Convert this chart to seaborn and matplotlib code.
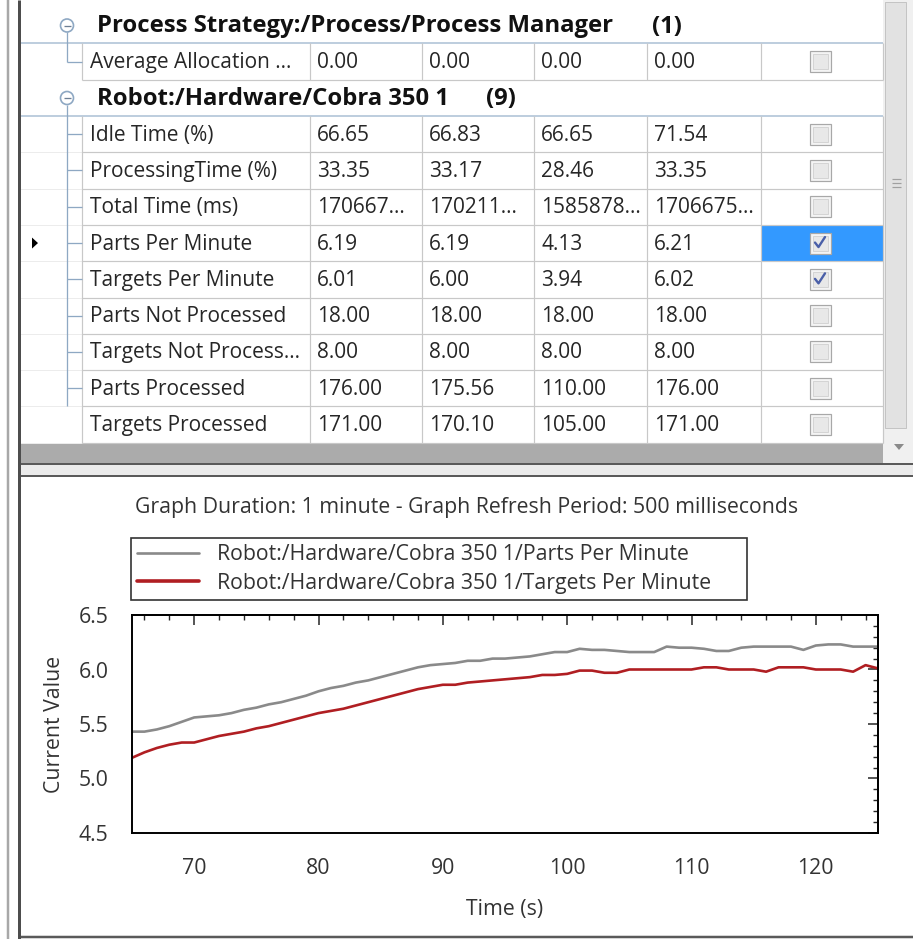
import matplotlib
matplotlib.use("Agg")
import matplotlib.pyplot as plt
from matplotlib.patches import Rectangle, Circle, Polygon
from matplotlib.lines import Line2D
from matplotlib.ticker import MultipleLocator
import pandas as pd
import seaborn as sns

# ---------------- table data ----------------
group_titles = ["Process Strategy:/Process/Process Manager", "Robot:/Hardware/Cobra 350 1"]
group_counts = ["(1)", "(9)"]
group1_rows = ["Average Allocation ..."]
group1_values = [["0.00", "0.00", "0.00", "0.00"]]
group1_checked = [False]
group2_rows = ["Idle Time (%)", "ProcessingTime (%)", "Total Time (ms)", "Parts Per Minute",
               "Targets Per Minute", "Parts Not Processed", "Targets Not Process...",
               "Parts Processed", "Targets Processed"]
col1 = ["66.65", "33.35", "170667...", "6.19", "6.01", "18.00", "8.00", "176.00", "171.00"]
col2 = ["66.83", "33.17", "170211...", "6.19", "6.00", "18.00", "8.00", "175.56", "170.10"]
col3 = ["66.65", "28.46", "1585878...", "4.13", "3.94", "18.00", "8.00", "110.00", "105.00"]
col4 = ["71.54", "33.35", "1706675...", "6.21", "6.02", "18.00", "8.00", "176.00", "171.00"]
group2_checked = [False, False, False, True, True, False, False, False, False]
selected_row = 3

# ---------------- chart data ----------------
chart_title = "Graph Duration: 1 minute - Graph Refresh Period: 500 milliseconds"
series_labels = ["Robot:/Hardware/Cobra 350 1/Parts Per Minute",
                 "Robot:/Hardware/Cobra 350 1/Targets Per Minute"]
time_s = [65, 66, 67, 68, 69, 70, 71, 72, 73, 74, 75, 76, 77, 78, 79, 80, 81, 82, 83, 84,
          85, 86, 87, 88, 89, 90, 91, 92, 93, 94, 95, 96, 97, 98, 99, 100, 101, 102, 103, 104,
          105, 106, 107, 108, 109, 110, 111, 112, 113, 114, 115, 116, 117, 118, 119, 120, 121,
          122, 123, 124, 125]
parts_per_minute = [5.43, 5.43, 5.45, 5.48, 5.52, 5.56, 5.57, 5.58, 5.60, 5.63, 5.65, 5.68,
                    5.70, 5.73, 5.76, 5.80, 5.83, 5.85, 5.88, 5.90, 5.93, 5.96, 5.99, 6.02,
                    6.04, 6.05, 6.06, 6.08, 6.08, 6.10, 6.10, 6.11, 6.12, 6.14, 6.16, 6.16,
                    6.19, 6.18, 6.18, 6.17, 6.16, 6.16, 6.16, 6.21, 6.20, 6.20, 6.19, 6.17,
                    6.17, 6.20, 6.21, 6.21, 6.21, 6.21, 6.18, 6.22, 6.23, 6.23, 6.21, 6.21, 6.21]
targets_per_minute = [5.19, 5.24, 5.28, 5.31, 5.33, 5.33, 5.36, 5.39, 5.41, 5.43, 5.46, 5.48,
                      5.51, 5.54, 5.57, 5.60, 5.62, 5.64, 5.67, 5.70, 5.73, 5.76, 5.79, 5.82,
                      5.84, 5.86, 5.86, 5.88, 5.89, 5.90, 5.91, 5.92, 5.93, 5.95, 5.95, 5.96,
                      5.99, 5.99, 5.97, 5.97, 6.00, 6.00, 6.00, 6.00, 6.00, 6.00, 6.02, 6.02,
                      6.00, 6.00, 6.00, 5.98, 6.02, 6.02, 6.02, 6.00, 6.00, 6.00, 5.98, 6.04, 6.01]
x_ticks = [70, 80, 90, 100, 110, 120]
y_ticks = [4.5, 5.0, 5.5, 6.0, 6.5]

# ---------------- style ----------------
sns.set_style("white")
FONT = ["Open Sans", "DejaVu Sans"]
plt.rcParams["font.family"] = FONT
TXT = "#262626"
GRID = "#c8c8c8"
BLUE_LINE = "#a9bfd4"
TREE = "#8ea8c3"
SEL = "#3399ff"
LINE_GRAY = "#8a8a8a"
LINE_RED = "#b01e22"
FS = 15.0      # table body text
FS_B = 17.2    # bold group headers
FS_C = 15.3    # chart texts

W, H = 913, 939
fig = plt.figure(figsize=(W / 100, H / 100), dpi=100, facecolor="white")
bg = fig.add_axes([0, 0, 1, 1], zorder=0)
bg.set_xlim(0, W)
bg.set_ylim(H, 0)
bg.axis("off")

PX = 0.72


def hline(y, x0, x1, c, px=1, z=2):
    bg.plot([x0, x1], [y, y], color=c, lw=px * PX, solid_capstyle="butt", zorder=z)


def vline(x, y0, y1, c, px=1, z=2):
    bg.plot([x, x], [y0, y1], color=c, lw=px * PX, solid_capstyle="butt", zorder=z)


def rect(x, y, w, h, fc, ec="none", px=1, z=1):
    bg.add_patch(Rectangle((x, y), w, h, facecolor=fc, edgecolor=ec, lw=px * PX, zorder=z))


def checkbox(cx, cy, on):
    rect(cx - 10.5, cy - 10.5, 21, 21, "#f4f4f4", "#a8a8a8", 1.2, z=4)
    rect(cx - 7.5, cy - 7.5, 15, 15, "#e8e8e8", "#d4d4d4", 1, z=4)
    if on:
        bg.plot([cx - 5, cx - 1.5, cx + 5], [cy - 0.5, cy + 4, cy - 6], color="#4a5fa8",
                lw=1.7, zorder=5, solid_capstyle="round", solid_joinstyle="round")


# ---------------- table ----------------
cols = [82, 310, 422, 534, 647, 761, 883]
row_h = 36.3
g1_head = (8, 43)
g1_row = (43, 80)
g2_head = (80, 116)
g2_rows = [(116 + i * row_h, 116 + (i + 1) * row_h) for i in range(len(group2_rows))]
table_bottom = g2_rows[-1][1]

# selected checkbox cell
sy0, sy1 = g2_rows[selected_row]
rect(cols[5], sy0, cols[6] - cols[5], sy1 - sy0, SEL, z=1)

# group headers text
for (ha_, hb_), title, cnt, cx in [(g1_head, group_titles[0], group_counts[0], 652),
                                   (g2_head, group_titles[1], group_counts[1], 486)]:
    yy = (ha_ + hb_) / 2 + 1
    bg.text(97, yy, title, fontsize=FS_B, fontweight="bold", color="#111111",
            va="center", ha="left", zorder=5)
    bg.text(cx, yy, cnt, fontsize=FS_B, fontweight="bold", color="#111111",
            va="center", ha="left", zorder=5)

# blue separators
hline(g1_head[1], 20, cols[6], BLUE_LINE, 1.5)
hline(g2_head[1], 20, cols[6], BLUE_LINE, 1.5)

# rows lines
hline(g1_row[1], cols[0], cols[6], GRID, 1.2)
for (a, b) in g2_rows:
    hline(b, cols[0], cols[6], GRID, 1.2)
    hline(b, 20, cols[0], "#ececec", 1)
for x in cols:
    vline(x, g1_row[0], g1_row[1], GRID, 1.2)
    vline(x, g2_rows[0][0], table_bottom, GRID, 1.2)

# group 1 row
cy = sum(g1_row) / 2 + 1
bg.text(90, cy, group1_rows[0], fontsize=FS, color=TXT, va="center", zorder=5)
for j, v in enumerate(group1_values[0]):
    bg.text(cols[j + 1] + 7, cy, v, fontsize=FS, color=TXT, va="center", zorder=5)
checkbox((cols[5] + cols[6]) / 2 - 2, sum(g1_row) / 2, group1_checked[0])

# group 2 rows
for i, name in enumerate(group2_rows):
    a, b = g2_rows[i]
    cy = (a + b) / 2 + 1
    bg.text(90, cy, name, fontsize=FS, color=TXT, va="center", zorder=5)
    for j, col in enumerate([col1, col2, col3, col4]):
        bg.text(cols[j + 1] + 7, cy, col[i], fontsize=FS, color=TXT, va="center", zorder=5)
    checkbox((cols[5] + cols[6]) / 2 - 2, (a + b) / 2, group2_checked[i])

# tree lines
for (ha_, hb_), rows in [(g1_head, [g1_row]), (g2_head, g2_rows)]:
    ccy = (ha_ + hb_) / 2
    bg.add_patch(Circle((67, ccy), 6.5, facecolor="white", edgecolor=TREE, lw=1.2, zorder=6))
    hline(ccy, 63.5, 70.5, "#6d7f94", 1.3, z=7)
    tick_rows = rows if len(rows) == 1 else rows[:-1]
    last_y = (tick_rows[-1][0] + tick_rows[-1][1]) / 2
    end_y = last_y if len(rows) == 1 else rows[-1][0]
    vline(67, ccy + 6.5, end_y, TREE, 1.3)
    for (a, b) in tick_rows:
        hline((a + b) / 2, 67, cols[0], TREE, 1.3)

# selected row marker
sy = (sy0 + sy1) / 2
bg.add_patch(Polygon([[32, sy - 5.5], [32, sy + 5.5], [38, sy]], closed=True,
                     facecolor="black", edgecolor="none", zorder=6))

# gray area below the table
rect(20, table_bottom, cols[6] - 20, 463 - table_bottom, "#ababab", z=1)

# scrollbar
rect(cols[6], 0, W - cols[6], 463, "#f0f0f0", z=1)
rect(cols[6] + 2, 2, 21, 426, "#e2e2e2", "#c4c4c4", 1, z=2)
for gy in [179, 183, 187]:
    hline(gy, 892, 901, "#a0a0a0", 1.2, z=3)
bg.add_patch(Polygon([[894, 444], [904, 444], [899, 450]], closed=True,
                     facecolor="#8a8a8a", edgecolor="none", zorder=3))

# splitter & panel borders
hline(464, 18, W, "#5a5a5a", 2)
rect(18, 465, W - 18, 10, "#ebebeb", z=1)
hline(476, 18, W, "#5a5a5a", 2)
hline(937, 18, W, "#5a5a5a", 2.5)
vline(8, 0, H, "#a8a8a8", 2.5)
vline(19, 0, H, "#4d4d4d", 3)

# ---------------- chart ----------------
ax_l, ax_r, ax_t, ax_b = 132, 878, 615, 833
ax = fig.add_axes([ax_l / W, 1 - ax_b / H, (ax_r - ax_l) / W, (ax_b - ax_t) / H], zorder=3)
n = len(time_s)
df = pd.DataFrame({
    "Time (s)": time_s + time_s,
    "Current Value": parts_per_minute + targets_per_minute,
    "series": [series_labels[0]] * n + [series_labels[1]] * n,
})
sns.lineplot(data=df, x="Time (s)", y="Current Value", hue="series",
             palette=[LINE_GRAY, LINE_RED], estimator=None,
             linewidth=1.9, legend=False, ax=ax)
ax.set_xlim(65, 125)
ax.set_ylim(4.5, 6.5)
ax.set_xticks(x_ticks)
ax.set_yticks(y_ticks)
ax.set_yticklabels([f"{v:.1f}" for v in y_ticks])
ax.xaxis.set_minor_locator(MultipleLocator(2))
ax.yaxis.set_minor_locator(MultipleLocator(0.1))
for s in ax.spines.values():
    s.set_visible(True)
    s.set_color("black")
    s.set_linewidth(1.4)
ax.tick_params(which="major", direction="inout", length=11.5, width=1.2, colors="black",
               labelcolor="#333333", labelsize=FS_C, top=False, right=False)
ax.tick_params(which="minor", direction="inout", length=5.8, width=1.1, colors="black",
               top=False, right=False)
ax.tick_params(axis="y", which="major", pad=11)
ax.tick_params(axis="x", which="major", pad=12)

top = ax.secondary_xaxis("top")
top.set_xticks(x_ticks)
top.xaxis.set_minor_locator(MultipleLocator(2))
top.tick_params(which="major", direction="in", length=7, width=1.1, labeltop=False)
top.tick_params(which="minor", direction="in", length=3.5, width=1.0)
top.spines["top"].set_linewidth(1.4)
right = ax.secondary_yaxis("right")
right.set_yticks(y_ticks)
right.yaxis.set_minor_locator(MultipleLocator(0.1))
right.tick_params(which="major", direction="in", length=7, width=1.1, labelright=False)
right.tick_params(which="minor", direction="in", length=3.5, width=1.0)
right.spines["right"].set_linewidth(1.4)

ax.set_xlabel("Time (s)", fontsize=FS_C, color="#333333")
ax.set_ylabel("Current Value", fontsize=FS_C, color="#333333")
ax.xaxis.set_label_coords(0.5, -0.305)
ax.yaxis.set_label_coords(-0.09, 0.5)

fig.text(467 / W, 1 - 507 / H, chart_title, fontsize=FS_C, color="#333333",
         ha="center", va="center")

handles = [Line2D([], [], color=LINE_GRAY, lw=1.9), Line2D([], [], color=LINE_RED, lw=2.6)]
leg = fig.legend(handles, series_labels, loc="upper left", mode="expand",
                 bbox_to_anchor=(131 / W, 1 - 538 / H, (747 - 131) / W, 0.0),
                 frameon=True, fancybox=False,
                 edgecolor="black", fontsize=FS_C, handlelength=2.9, handletextpad=0.84,
                 borderpad=0.3, labelspacing=0.35, borderaxespad=0)
leg.get_frame().set_linewidth(1.2)
for t in leg.get_texts():
    t.set_color("#333333")

fig.savefig("out.png", dpi=100, facecolor="white")
